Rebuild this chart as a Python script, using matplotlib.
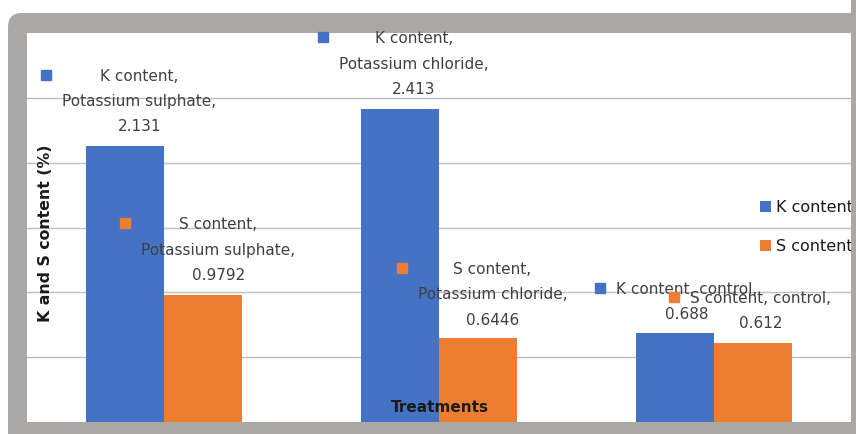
import numpy as np
import matplotlib
matplotlib.use('Agg')
import matplotlib.pyplot as plt
from matplotlib.patches import FancyBboxPatch, Rectangle

# Chart data
treatments = ['Potassium sulphate', 'Potassium chloride', 'control']
k_content = [2.131, 2.413, 0.688]
s_content = [0.9792, 0.6446, 0.612]
series_names = ['K content', 'S content']

K_COLOR = '#4472C4'
S_COLOR = '#ED7D31'
FRAME = '#ABA7A5'
LABEL_COLOR = '#404040'

fig = plt.figure(figsize=(8.56, 4.34), dpi=100)

# grey rounded frame behind the chart (pixel coordinates)
frame = FancyBboxPatch((8, -20), 880, 441, boxstyle='round,pad=0,rounding_size=14',
                       transform=None, facecolor=FRAME, edgecolor='none', zorder=-5)
fig.patches.append(frame)

ax = fig.add_axes([27 / 856, 12 / 434, 824 / 856, 389 / 434])
ax.set_zorder(1)
ax.set_facecolor('white')

x = np.arange(len(treatments))
w = 0.284
bars_k = ax.bar(x - w / 2, k_content, w, color=K_COLOR, label=series_names[0], zorder=3)
bars_s = ax.bar(x + w / 2, s_content, w, color=S_COLOR, label=series_names[1], zorder=3)

ax.set_xlim(-0.5, 2.5)
ax.set_ylim(0, 3)
ax.set_yticks(np.arange(0.5, 3.0, 0.5))
ax.yaxis.grid(True, color='#BFBFBF', linewidth=1.0, zorder=0)
ax.set_axisbelow(True)
ax.tick_params(left=False, bottom=False, labelleft=False, labelbottom=False)
for sp in ax.spines.values():
    sp.set_visible(False)

ax.text(0.022, 0.485, 'K and S content (%)', transform=ax.transAxes, rotation=90,
        ha='center', va='center', fontsize=11.3, fontweight='bold', color='#1a1a1a')
ax.text(0.501, 0.036, 'Treatments', transform=ax.transAxes, ha='center', va='center',
        fontsize=11, fontweight='bold', color='#1a1a1a')

# data labels: text block offset (px) from bar top centre
k_offsets = [(14, 44), (14, 45), (12, 31)]
s_offsets = [(15, 45), (14.5, 43.5), (8, 32)]

annots = []
for i, t in enumerate(treatments):
    for name, vals, offs, bars, col in [
            (series_names[0], k_content, k_offsets, bars_k, K_COLOR),
            (series_names[1], s_content, s_offsets, bars_s, S_COLOR)]:
        v = vals[i]
        if t == 'control':
            txt = f'{name}, {t},\n{v}'
        else:
            txt = f'{name},\n{t},\n{v}'
        b = bars[i]
        dx, dy = offs[i]
        a = ax.annotate(txt, xy=(b.get_x() + b.get_width() / 2, v),
                        xytext=(dx * 0.72, dy * 0.72), textcoords='offset points',
                        ha='center', va='center', multialignment='center',
                        fontsize=11, color=LABEL_COLOR, linespacing=1.85,
                        annotation_clip=False, zorder=5)
        annots.append((a, col))

leg = ax.legend(loc='center left', bbox_to_anchor=(727 / 824, (422 - 227) / 389),
                frameon=False, fontsize=11.5, handlelength=0.65, handleheight=0.65,
                handletextpad=0.3, labelspacing=1.5, borderaxespad=0)
for txt in leg.get_texts():
    txt.set_color('#1a1a1a')

# square markers at the left of each label block
fig.canvas.draw()
renderer = fig.canvas.get_renderer()
inv = ax.transData.inverted()
for a, col in annots:
    bb = a.get_window_extent(renderer)
    px, py = bb.x0 - 16, bb.y1 - 6
    mx, my = inv.transform((px, py))
    ax.plot([mx], [my], marker='s', ms=7, color=col, linestyle='none',
            clip_on=False, zorder=5)

# grey strip covering the right edge
fig.patches.append(Rectangle((851, 0), 10, 434, transform=None,
                             facecolor=FRAME, edgecolor='none', zorder=10))

fig.savefig('out.png', dpi=100)
